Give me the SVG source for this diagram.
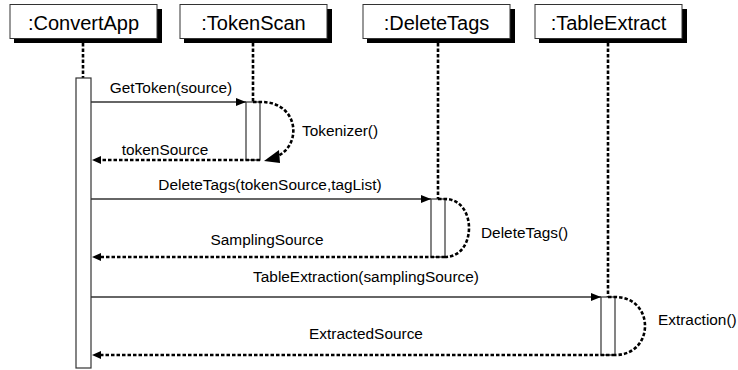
<svg xmlns="http://www.w3.org/2000/svg" width="738" height="370" viewBox="0 0 738 370">
<defs>
<style>
.box{fill:#fff;stroke:#333;stroke-width:1}
.shadow{fill:#000}
.title{font-family:"Liberation Sans",Arial,sans-serif;font-size:20px;fill:#000;text-anchor:middle}
.lbl{font-family:"Liberation Sans",Arial,sans-serif;font-size:15.4px;fill:#000}
.mid{text-anchor:middle}
.life{stroke:#000;stroke-width:2.6;stroke-dasharray:3.5 2;fill:none}
.act{fill:#fff;stroke:#333;stroke-width:1.2}
.msg{stroke:#333;stroke-width:1.7;fill:none}
.ret{stroke:#000;stroke-width:2.6;stroke-dasharray:3.5 2;fill:none}
.head{fill:#000}
</style>
<marker id="arr" viewBox="0 0 10 8" refX="10" refY="4" markerWidth="10" markerHeight="8" markerUnits="userSpaceOnUse" orient="auto">
<path d="M0,0 L10,4 L0,8 Z" class="head"/>
</marker>
</defs>
<rect width="738" height="370" fill="#fff"/>

<g id="convertapp">
<rect class="shadow" x="14" y="9" width="148" height="34"/>
<rect class="box" x="10" y="4.5" width="147" height="34"/>
<text class="title" x="83.5" y="30">:ConvertApp</text>
<line class="life" x1="83" y1="43" x2="83" y2="78"/>
<rect class="act" x="76" y="78" width="15" height="290"/>
</g>

<g id="tokenscan">
<rect class="shadow" x="184" y="9" width="148" height="34"/>
<rect class="box" x="180" y="4.5" width="147" height="34"/>
<text class="title" x="253.5" y="30">:TokenScan</text>
<line class="life" x1="253" y1="43" x2="253" y2="102"/>
<rect class="act" x="246" y="102" width="14" height="58"/>
</g>

<g id="deletetags">
<rect class="shadow" x="367" y="9" width="148" height="34"/>
<rect class="box" x="363" y="4.5" width="147" height="34"/>
<text class="title" x="436.5" y="30">:DeleteTags</text>
<line class="life" x1="438" y1="43" x2="438" y2="199"/>
<rect class="act" x="431" y="199" width="14" height="58"/>
</g>

<g id="tableextract">
<rect class="shadow" x="539" y="9" width="148" height="34"/>
<rect class="box" x="535" y="4.5" width="147" height="34"/>
<text class="title" x="608.5" y="30">:TableExtract</text>
<line class="life" x1="608" y1="43" x2="608" y2="297"/>
<rect class="act" x="601" y="297" width="14" height="58"/>
</g>

<g id="connectors">
<line class="msg" x1="91" y1="102" x2="246" y2="102" marker-end="url(#arr)"/>
<text class="lbl mid" x="171" y="93">GetToken(source)</text>

<path class="ret" d="M253,102 L260,102 C301,101 304,151 270,159"/>
<polygon class="head" points="264,161 279,150 280,163"/>
<text class="lbl" x="302" y="136">Tokenizer()</text>

<line class="ret" x1="260" y1="160" x2="100" y2="160"/>
<polygon class="head" points="92,160 101,156 101,164"/>
<text class="lbl mid" x="165" y="155">tokenSource</text>

<line class="msg" x1="91" y1="199" x2="431" y2="199" marker-end="url(#arr)"/>
<text class="lbl mid" x="270" y="190">DeleteTags(tokenSource,tagList)</text>

<path class="ret" d="M438,199 L445,199 C477,199 477,257 445,257"/>
<text class="lbl" x="481" y="238">DeleteTags()</text>

<line class="ret" x1="445" y1="257" x2="100" y2="257"/>
<polygon class="head" points="92,257 101,253 101,261"/>
<text class="lbl mid" x="267" y="245">SamplingSource</text>

<line class="msg" x1="91" y1="297" x2="601" y2="297" marker-end="url(#arr)"/>
<text class="lbl mid" x="366" y="282">TableExtraction(samplingSource)</text>

<path class="ret" d="M608,297 L615,297 C655,297 655,355 615,355"/>
<text class="lbl" x="658" y="325">Extraction()</text>

<line class="ret" x1="615" y1="355" x2="100" y2="355"/>
<polygon class="head" points="92,355 101,351 101,359"/>
<text class="lbl mid" x="366" y="339">ExtractedSource</text>
</g>
</svg>
